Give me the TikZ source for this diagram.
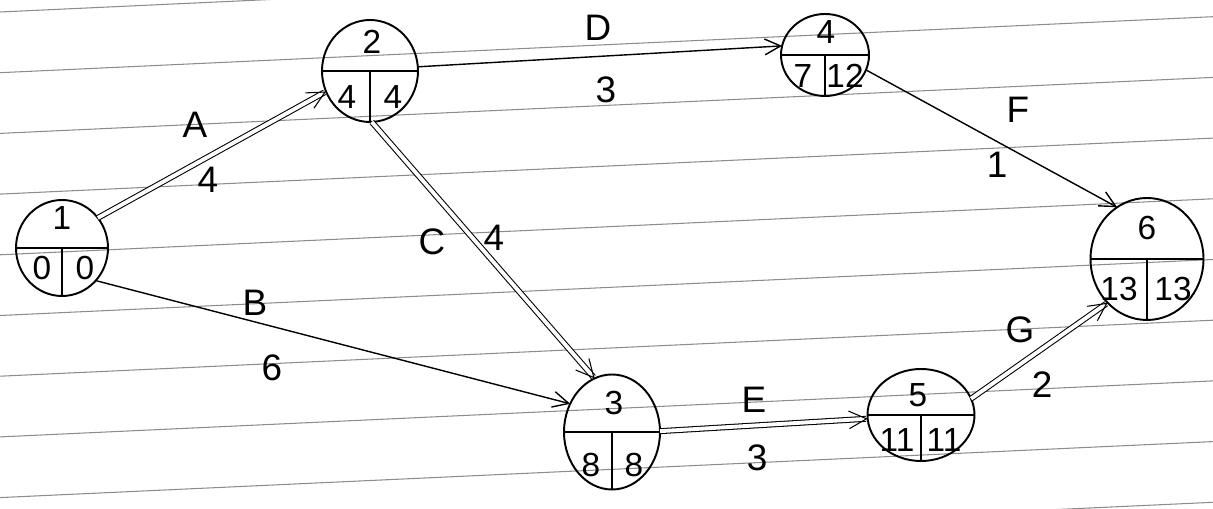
\documentclass[tikz,border=0pt]{standalone}
\usepackage{fontspec}
\setmainfont{Liberation Sans}
\usetikzlibrary{shapes.geometric,arrows.meta}
\tikzset{
  evt/.style={ellipse, draw, line width=1.1pt, inner sep=0pt, outer sep=0pt},
  lab/.style={font=\fontsize{19}{21}\selectfont, inner sep=1pt},
  elab/.style={font=\fontsize{21}{23}\selectfont, inner sep=1pt},
  rule/.style={draw=black!45, line width=0.6pt},
  act/.style={line width=0.8pt, -{Straight Barb[length=9pt,width=9pt]}},
  crit/.style={line width=0.6pt, double=white, double distance=2.2pt, -{Straight Barb[length=10pt,width=10pt]}},
  div/.style={line width=1.1pt}
}
\begin{document}
\begin{tikzpicture}[x=0.02cm,y=-0.02cm]
\useasboundingbox (0,0) rectangle (1213,509);
% ruled paper lines
\foreach \k in {0,...,9}{
  \draw[rule] (0,{12+60.7*\k}) -- (1213,{12+60.7*\k-56});
}
% events
\node[evt, minimum width=92*0.02cm, minimum height=96*0.02cm] (n1) at (62,248) {};
\node[evt, minimum width=96*0.02cm, minimum height=102*0.02cm] (n2) at (370,71) {};
\node[evt, minimum width=88*0.02cm, minimum height=82*0.02cm] (n4) at (825,55) {};
\node[evt, minimum width=113*0.02cm, minimum height=122*0.02cm] (n6) at (1147,259) {};
\node[evt, minimum width=96*0.02cm, minimum height=115*0.02cm] (n3) at (612,432) {};
\node[evt, minimum width=107*0.02cm, minimum height=92*0.02cm] (n5) at (921,415) {};
% dividers
\foreach \n in {n1,n2,n4,n6,n3,n5}{
  \draw[div] (\n.west) -- (\n.east);
  \draw[div] (\n.center) -- (\n.south);
}
% event labels
\node[lab] (t1) at (62,218) {1};
\node[lab] (e1) at (42,268) {0};
\node[lab] (l1) at (85,268) {0};
\node[lab] (t2) at (372,42) {2};
\node[lab] (e2) at (347,97) {4};
\node[lab] (l2) at (393,97) {4};
\node[lab] (t4) at (826,32) {4};
\node[lab] (e4) at (803,76) {7};
\node[lab] (l4) at (845,76) {12};
\node[lab] (t6) at (1147,228) {6};
\node[lab] (e6) at (1119,289) {13};
\node[lab] (l6) at (1173,289) {13};
\node[lab] (t3) at (614,403) {3};
\node[lab] (e3) at (591,465) {8};
\node[lab] (l3) at (634,465) {8};
\node[lab] (t5) at (918,395) {5};
\node[lab] (e5) at (897,440) {11};
\node[lab] (l5) at (944,440) {11};
% activities
\draw[crit] (n1.40) -- (n2.-155);
\draw[act] (n2.5) -- (n4.168);
\draw[act] (n4.-20) -- (n6.120);
\draw[crit] (n2.-88) -- (n3.108);
\draw[act] (n1.-44) -- (n3.146);
\draw[crit] (n3.1) -- (n5.184);
\draw[crit] (n5.18) -- (n6.228);
% activity labels
\node[elab] (aA) at (195,125) {A};
\node[elab] (dA) at (208,180) {4};
\node[elab] (aD) at (598,28) {D};
\node[elab] (dD) at (606,90) {3};
\node[elab] (aF) at (1018,110) {F};
\node[elab] (dF) at (997,165) {1};
\node[elab] (aC) at (432,242) {C};
\node[elab] (dC) at (494,238) {4};
\node[elab] (aB) at (255,303) {B};
\node[elab] (dB) at (272,368) {6};
\node[elab] (aE) at (754,400) {E};
\node[elab] (dE) at (757,458) {3};
\node[elab] (aG) at (1020,330) {G};
\node[elab] (dG) at (1042,385) {2};
\end{tikzpicture}
\end{document}
